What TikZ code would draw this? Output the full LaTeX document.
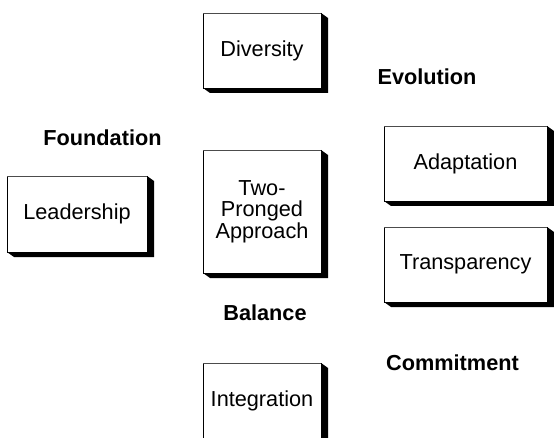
\documentclass[tikz,border=0pt]{standalone}
\usepackage{fontspec}
\setmainfont{Liberation Sans}
\usetikzlibrary{backgrounds}
\tikzset{
  x=1pt, y=1pt,
  card/.style={draw=black, line width=0.9pt, fill=white, inner sep=0pt, outer sep=0pt,
    align=center, font=\fontsize{21.7}{21.5}\selectfont},
  tag/.style={inner sep=0pt, font=\fontsize{21.7}{22}\selectfont\bfseries},
  shadowfill/.style={fill=black}
}
\newcommand{\cardshadow}[1]{%
  \fill[shadowfill] (#1.south west) -- ([shift={(7,-5)}]#1.south west)
    -- ([shift={(7,-5)}]#1.south east) -- ([shift={(7,-5)}]#1.north east)
    -- (#1.north east) -- cycle;}
\begin{document}
\begin{tikzpicture}
\useasboundingbox (0,0) rectangle (554,437);
\clip (0,0) rectangle (554,437);
% boxes
\node[card, minimum width=118, minimum height=75] (div) at (262,386.5) {Diversity};
\node[card, minimum width=118, minimum height=123] (two) at (262,225.5) {Two-\\Pronged\\Approach};
\node[card, minimum width=118, minimum height=75] (int) at (262,36.5) {Integration};
\node[card, minimum width=140, minimum height=76] (lead) at (77,223) {Leadership};
\node[card, minimum width=163, minimum height=75] (adap) at (465.5,273.5) {Adaptation};
\node[card, minimum width=163, minimum height=75] (trans) at (465.5,172.5) {Transparency};
\begin{scope}[on background layer]
\fill[white] (0,0) rectangle (554,437);
\cardshadow{div}
\cardshadow{two}
\cardshadow{int}
\cardshadow{lead}
\cardshadow{adap}
\cardshadow{trans}
\end{scope}
\foreach \n in {div,two,int,lead,adap,trans}{
  \draw[gray!60!black, line width=0.9pt] (\n.north west) -- (\n.north east);}
% labels
\node[tag] (evo) at (427,360) {Evolution};
\node[tag] (found) at (102.5,299) {Foundation};
\node[tag] (bal) at (265,124) {Balance};
\node[tag] (comm) at (452.5,74) {Commitment};
\end{tikzpicture}
\end{document}
